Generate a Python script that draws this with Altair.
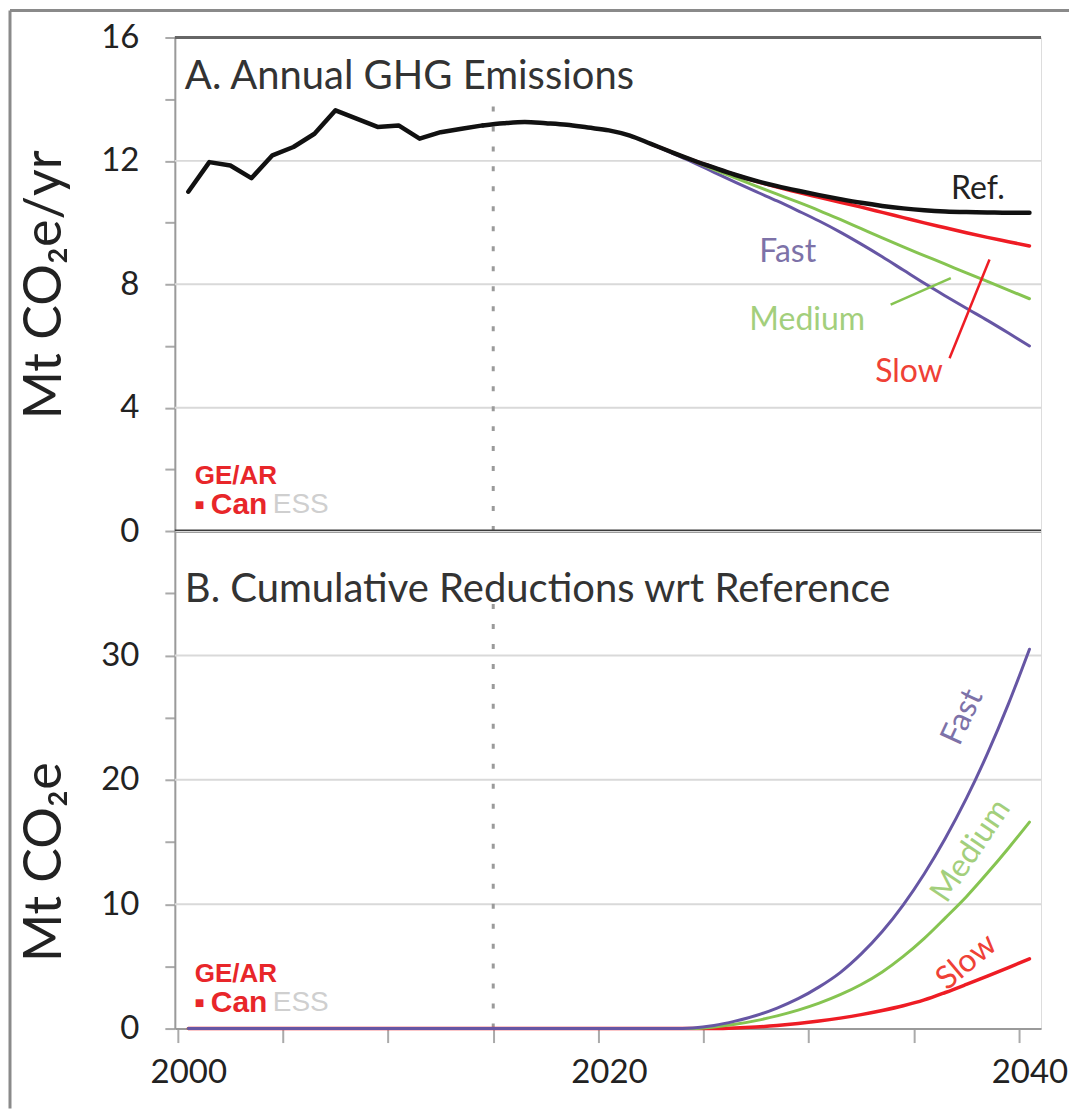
import altair as alt
import pandas as pd

# ---------------- data ----------------
hist_years = list(range(2000, 2015))
hist_vals = [11.0, 11.96, 11.85, 11.44, 12.18, 12.45, 12.88, 13.64, 13.37, 13.1,
             13.15, 12.72, 12.93, 13.04, 13.15]

ref_years = list(range(2014, 2041))
ref_vals = [13.15, 13.22, 13.26, 13.22, 13.17, 13.08, 12.99, 12.82, 12.55, 12.28,
            12.02, 11.78, 11.55, 11.35, 11.18, 11.03, 10.89, 10.76, 10.64, 10.54,
            10.46, 10.40, 10.36, 10.34, 10.33, 10.32, 10.32]

scen_years = list(range(2022, 2041))
slow_vals = [12.55, 12.28, 12.02, 11.78, 11.55, 11.34, 11.15, 10.98, 10.82, 10.66,
             10.50, 10.33, 10.16, 9.99, 9.83, 9.67, 9.52, 9.38, 9.24]
medium_vals = [12.55, 12.28, 12.0, 11.72, 11.45, 11.18, 10.92, 10.66, 10.39, 10.10,
               9.80, 9.50, 9.21, 8.93, 8.65, 8.37, 8.09, 7.81, 7.53]
fast_vals = [12.55, 12.25, 11.95, 11.63, 11.31, 11.00, 10.70, 10.38, 10.05, 9.69,
             9.30, 8.89, 8.46, 8.03, 7.62, 7.22, 6.83, 6.42, 6.00]

cum_years = [2000, 2010] + list(range(2020, 2041))
fast_cum = [0, 0, 0, 0, 0, 0, 0.05, 0.25, 0.6, 1.05, 1.65, 2.4, 3.35, 4.5, 6.0, 7.8,
            9.95, 12.45, 15.3, 18.5, 22.1, 26.1, 30.5]
medium_cum = [0, 0, 0, 0, 0, 0, 0, 0.12, 0.34, 0.64, 1.02, 1.48, 2.04, 2.72, 3.54,
              4.55, 5.8, 7.25, 8.9, 10.6, 12.5, 14.5, 16.6]
slow_cum = [0, 0, 0, 0, 0, 0, 0, 0, 0.04, 0.12, 0.24, 0.40, 0.60, 0.84, 1.12, 1.45,
            1.83, 2.3, 2.9, 3.55, 4.22, 4.9, 5.6]

top_ticks = list(range(0, 17))
top_grid = [4, 8, 12]
bot_ticks = [0, 5, 10, 15, 20, 25, 30, 35]
bot_grid = [10, 20, 30]
x_ticks = [1999.5, 2000, 2004.5, 2009.5, 2014.5, 2019.5, 2020, 2024.5, 2029.5,
           2034.5, 2039.5, 2040]

FONT = "Lato"
W, H1, H2 = 867, 494, 498
PURPLE, GREEN, RED = "#6656a4", "#86c451", "#ee1c24"

xscale = alt.Scale(domain=[1999.36, 2040.55], nice=False, zero=False)
ytop = alt.Scale(domain=[0, 16], nice=False)
ybot = alt.Scale(domain=[0, 40], nice=False)

one = pd.DataFrame({"k": [0]})

xaxis = alt.Axis(values=x_ticks, format="d", grid=False, title=None,
                 labelExpr="datum.value % 1 == 0 ? datum.label : ''",
                 tickOpacity={"condition": {"test": "datum.value % 1 == 0", "value": 0},
                              "value": 1},
                 tickSize=14, tickColor="#aaaaaa", tickWidth=2,
                 domainColor="#9a9a9a", domainWidth=2,
                 labelFont=FONT, labelFontSize=33, labelColor="#222222",
                 labelPadding=14, labelFlush=False, labelOverlap=False)


def yaxis(values, every, title, title_y):
    return alt.Axis(values=values, grid=False,
                    labelExpr=f"datum.value % {every} == 0 ? datum.label : ''",
                    tickSize=10, tickColor="#aaaaaa", tickWidth=2,
                    domainColor="#9a9a9a", domainWidth=2,
                    labelFont=FONT, labelFontSize=33, labelColor="#222222",
                    labelPadding=26, labelOverlap=False,
                    title=title, titleFont=FONT, titleFontSize=52,
                    titleFontWeight="normal", titleColor="#222222",
                    titleAngle=270, titleX=-130, titleY=title_y,
                    titleAlign="center", titleBaseline="middle")


def line(years, vals, color, width, yscale, interp="monotone", xax=None):
    df = pd.DataFrame({"year": years, "v": vals})
    return alt.Chart(df).mark_line(color=color, strokeWidth=width,
                                   interpolate=interp, strokeCap="round",
                                   strokeJoin="round").encode(
        x=alt.X("year:Q", scale=xscale, axis=xax),
        y=alt.Y("v:Q", scale=yscale))


def label(text, x, y, color, yscale, size=32, angle=0, xax=None):
    df = pd.DataFrame({"t": [text], "x": [x], "y": [y]})
    kw = dict(color=color, font=FONT, fontSize=size, align="center", baseline="middle")
    if angle:
        kw["angle"] = angle
    return alt.Chart(df).mark_text(**kw).encode(
        x=alt.X("x:Q", scale=xscale, axis=xax),
        y=alt.Y("y:Q", scale=yscale), text="t:N")


def logo(h):
    parts = []
    for txt, x, dy, size, weight, color in [
        ("GE/AR", 20, 55, 26, "bold", "#e8262a"),
        ("■", 20, 26, 16, "bold", "#e8262a"),
        ("Can", 36, 26, 30, "bold", "#e8262a"),
        ("ESS", 98, 26, 28, "normal", "#cfcfcf"),
    ]:
        parts.append(alt.Chart(pd.DataFrame({"t": [txt]})).mark_text(
            font="Liberation Sans", fontSize=size, fontWeight=weight, color=color,
            align="left", baseline="middle").encode(
            text="t:N", x=alt.value(x), y=alt.value(h - dy)))
    return parts


def panel_title(text, y):
    return alt.Chart(pd.DataFrame({"t": [text]})).mark_text(
        font=FONT, fontSize=40, color="#333333", align="left", baseline="middle"
    ).encode(text="t:N", x=alt.value(10), y=alt.value(y))


# ---------------- top panel ----------------
grid_top = alt.Chart(pd.DataFrame({"v": top_grid})).mark_rule(
    color="#d9d9d9", strokeWidth=2).encode(
    y=alt.Y("v:Q", scale=ytop, axis=yaxis(top_ticks, 4, "Mt CO₂e/yr", 247)))

vline_top = alt.Chart(pd.DataFrame({"x": [2014.5], "y": [0], "y2": [14]})).mark_rule(
    color="#9a9a9a", strokeWidth=3, strokeDash=[5, 15]).encode(
    x=alt.X("x:Q", scale=xscale, axis=None), y=alt.Y("y:Q", scale=ytop), y2="y2:Q")

top_border = alt.Chart(pd.DataFrame({"v": [16]})).mark_rule(
    color="#666666", strokeWidth=3).encode(y=alt.Y("v:Q", scale=ytop))
zero_line = alt.Chart(pd.DataFrame({"v": [0]})).mark_rule(
    color="#3c3c3c", strokeWidth=3).encode(y=alt.Y("v:Q", scale=ytop))

frame_left = alt.Chart(one).mark_rule(color="#8a8a8a", strokeWidth=3).encode(
    x=alt.value(-165), y=alt.value(-27), y2=alt.value(1072))
frame_top = alt.Chart(one).mark_rule(color="#8a8a8a", strokeWidth=3).encode(
    x=alt.value(-165), x2=alt.value(895), y=alt.value(-27))

leaders = alt.Chart(pd.DataFrame({
    "x": [2033.4, 2036.2], "x2": [2036.26, 2038.1],
    "y": [7.34, 5.6], "y2": [8.2, 8.8], "c": [GREEN, RED]})).mark_rule(
    strokeWidth=2.5).encode(
    x=alt.X("x:Q", scale=xscale, axis=None), x2="x2:Q",
    y=alt.Y("y:Q", scale=ytop), y2="y2:Q", color=alt.Color("c:N", scale=None))

top = alt.layer(
    grid_top, vline_top, top_border,
    line(scen_years, fast_vals, PURPLE, 3, ytop),
    line(scen_years, medium_vals, GREEN, 3, ytop),
    line(scen_years, slow_vals, RED, 3.5, ytop),
    line(ref_years, ref_vals, "#111111", 4.5, ytop),
    line(hist_years, hist_vals, "#111111", 4.5, ytop, interp="linear"),
    zero_line, leaders,
    label("Ref.", 2037.55, 11.09, "#222222", ytop),
    label("Fast", 2028.5, 9.04, "#7d72a8", ytop),
    label("Medium", 2029.43, 6.84, "#a3cf7c", ytop),
    label("Slow", 2034.27, 5.15, "#ef4136", ytop),
    panel_title("A. Annual GHG Emissions", 40),
    *logo(H1),
    frame_left, frame_top,
).properties(width=W, height=H1)

# ---------------- bottom panel ----------------
grid_bot = alt.Chart(pd.DataFrame({"v": bot_grid})).mark_rule(
    color="#d9d9d9", strokeWidth=2).encode(
    y=alt.Y("v:Q", scale=ybot, axis=yaxis(bot_ticks, 10, "Mt CO₂e", 331)))

vline_bot = alt.Chart(pd.DataFrame({"x": [2014.5], "y": [0], "y2": [35]})).mark_rule(
    color="#9a9a9a", strokeWidth=3, strokeDash=[5, 15]).encode(
    x=alt.X("x:Q", scale=xscale, axis=xaxis), y=alt.Y("y:Q", scale=ybot), y2="y2:Q")

bottom = alt.layer(
    grid_bot, vline_bot,
    line(cum_years, slow_cum, RED, 3.5, ybot, xax=xaxis),
    line(cum_years, medium_cum, GREEN, 3, ybot, xax=xaxis),
    line(cum_years, fast_cum, PURPLE, 3, ybot, xax=xaxis),
    label("Fast", 2036.8, 25.06, "#7d72a8", ybot, angle=295, xax=xaxis),
    label("Medium", 2037.2, 14.3, "#a3cf7c", ybot, angle=304, xax=xaxis),
    label("Slow", 2037.0, 5.38, "#ef4136", ybot, angle=320, xax=xaxis),
    panel_title("B. Cumulative Reductions wrt Reference", 59),
    *logo(H2),
).properties(width=W, height=H2)

chart = alt.vconcat(top, bottom, spacing=0, bounds="flush").properties(
    padding={"left": 0, "top": 0, "right": 0, "bottom": 0}
).configure_view(stroke="#9a9a9a", strokeWidth=2).configure(font=FONT)

chart.save("out.html", embed_options={"renderer": "svg", "actions": False})
